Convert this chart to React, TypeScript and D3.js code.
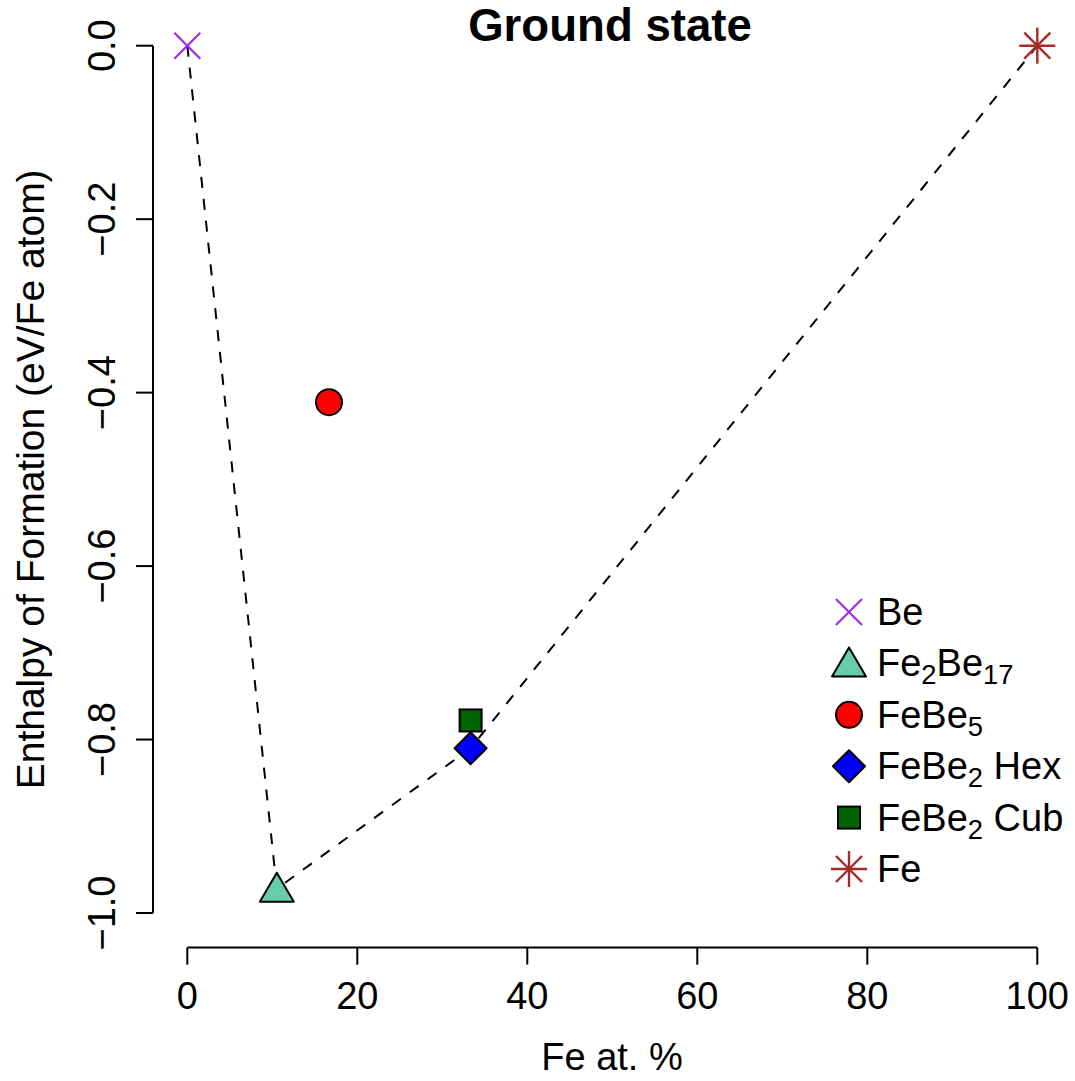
import React from "react";
import * as d3 from "d3";

const legendLabels = ["Be", "Fe{2}Be{17}", "FeBe{5}", "FeBe{2} Hex", "FeBe{2} Cub", "Fe"];
const feAtPct = [0, 10.53, 16.67, 33.33, 33.33, 100];
const enthalpy = [0, -0.972, -0.411, -0.81, -0.778, 0];
const colors = ["#a020f0", "#66cdaa", "#ff0000", "#0000ff", "#006400", "#a52a2a"];
const shapes = ["x", "triangle", "circle", "diamond", "square", "asterisk"];
const hullOrder = [0, 1, 3, 5];
const xTicks = [0, 20, 40, 60, 80, 100];
const yTicks = [0, -0.2, -0.4, -0.6, -0.8, -1.0];

const W = 1075;
const H = 1081;
const FONT = "'Liberation Sans', Arial, Helvetica, sans-serif";
const FS = 38;

function parseLabel(s: string) {
  const parts: { t: string; sub: boolean }[] = [];
  const re = /\{([^}]*)\}|([^{]+)/g;
  let m;
  while ((m = re.exec(s)) !== null) {
    if (m[1] !== undefined) parts.push({ t: m[1], sub: true });
    else parts.push({ t: m[2], sub: false });
  }
  return parts;
}

function Marker({ shape, cx, cy, color }: { shape: string; cx: number; cy: number; color: string }) {
  const sw = 2;
  switch (shape) {
    case "x": {
      const r = 13;
      return (
        <g stroke={color} strokeWidth={2}>
          <line x1={cx - r} y1={cy - r} x2={cx + r} y2={cy + r} />
          <line x1={cx - r} y1={cy + r} x2={cx + r} y2={cy - r} />
        </g>
      );
    }
    case "asterisk": {
      const r = 18;
      const d = 13;
      return (
        <g stroke={color} strokeWidth={2.4}>
          <line x1={cx - r} y1={cy} x2={cx + r} y2={cy} />
          <line x1={cx} y1={cy - r} x2={cx} y2={cy + r} />
          <line x1={cx - d} y1={cy - d} x2={cx + d} y2={cy + d} />
          <line x1={cx - d} y1={cy + d} x2={cx + d} y2={cy - d} />
        </g>
      );
    }
    case "triangle": {
      const pts = [
        [cx, cy - 16],
        [cx - 17, cy + 13],
        [cx + 17, cy + 13],
      ];
      return <polygon points={pts.map((p) => p.join(",")).join(" ")} fill={color} stroke="#000" strokeWidth={sw} strokeLinejoin="round" />;
    }
    case "circle":
      return <circle cx={cx} cy={cy} r={13} fill={color} stroke="#000" strokeWidth={sw} />;
    case "diamond": {
      const r = 16;
      const pts = [
        [cx, cy - r],
        [cx + r, cy],
        [cx, cy + r],
        [cx - r, cy],
      ];
      return <polygon points={pts.map((p) => p.join(",")).join(" ")} fill={color} stroke="#000" strokeWidth={sw} strokeLinejoin="round" />;
    }
    case "square": {
      const r = 11;
      return <rect x={cx - r} y={cy - r} width={2 * r} height={2 * r} fill={color} stroke="#000" strokeWidth={sw} />;
    }
    default:
      return null;
  }
}

export default function App() {
  const x = d3.scaleLinear().domain([0, 100]).range([187.3, 1037.3]);
  const y = d3.scaleLinear().domain([-1, 0]).range([913, 45.7]);
  const axisX = 153;
  const axisY = 947.6;
  const tickLen = 17;
  const fmtY = d3.format(".1f");

  const line = d3
    .line<number>()
    .x((i) => x(feAtPct[i]))
    .y((i) => y(enthalpy[i]));

  const legendX = 849;
  const legendY0 = 612;
  const legendStep = 51.4;

  return (
    <svg width={W} height={H} style={{ position: "absolute", left: 0, top: 0, background: "#fff" }} fontFamily={FONT}>
      <rect width={W} height={H} fill="#fff" />
      {/* title */}
      <text x={610} y={41} textAnchor="middle" fontSize={45.6} fontWeight="bold">
        Ground state
      </text>

      {/* y axis */}
      <line x1={axisX} y1={y(0)} x2={axisX} y2={y(-1)} stroke="#000" strokeWidth={2} />
      {yTicks.map((t) => (
        <g key={t}>
          <line x1={axisX - tickLen} y1={y(t)} x2={axisX} y2={y(t)} stroke="#000" strokeWidth={2} />
          <text transform={`translate(115,${y(t)}) rotate(-90)`} textAnchor="middle" fontSize={FS}>
            {fmtY(t)}
          </text>
        </g>
      ))}
      <text transform={`translate(44,${(y(0) + y(-1)) / 2}) rotate(-90)`} textAnchor="middle" fontSize={39}>
        Enthalpy of Formation (eV/Fe atom)
      </text>

      {/* x axis */}
      <line x1={x(0)} y1={axisY} x2={x(100)} y2={axisY} stroke="#000" strokeWidth={2} />
      {xTicks.map((t) => (
        <g key={t}>
          <line x1={x(t)} y1={axisY} x2={x(t)} y2={axisY + tickLen} stroke="#000" strokeWidth={2} />
          <text x={x(t)} y={1009} textAnchor="middle" fontSize={FS}>
            {t}
          </text>
        </g>
      ))}
      <text x={612} y={1070} textAnchor="middle" fontSize={FS}>
        Fe at. %
      </text>

      {/* hull line */}
      <path d={line(hullOrder) || ""} fill="none" stroke="#000" strokeWidth={2} strokeDasharray="11,11" />

      {/* points */}
      {feAtPct.map((v, i) => (
        <Marker key={i} shape={shapes[i]} cx={x(v)} cy={y(enthalpy[i])} color={colors[i]} />
      ))}

      {/* legend */}
      {legendLabels.map((lab, i) => {
        const cy = legendY0 + i * legendStep;
        const parts = parseLabel(lab);
        return (
          <g key={lab}>
            <Marker shape={shapes[i]} cx={legendX} cy={cy} color={colors[i]} />
            <text x={877} y={cy + 13} fontSize={FS}>
              {parts.map((p, j) =>
                p.sub ? (
                  <tspan key={j} fontSize={FS * 0.72} dy={8}>
                    {p.t}
                  </tspan>
                ) : (
                  <tspan key={j} fontSize={FS} dy={j > 0 && parts[j - 1].sub ? -8 : 0}>
                    {p.t}
                  </tspan>
                )
              )}
            </text>
          </g>
        );
      })}
    </svg>
  );
}
